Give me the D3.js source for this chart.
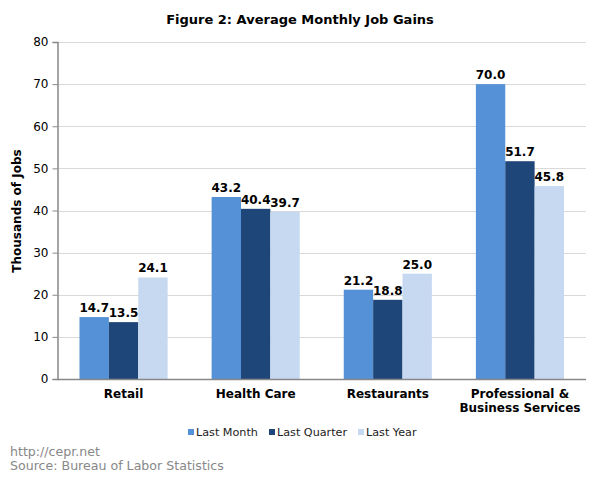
<!DOCTYPE html>
<html><head><meta charset="utf-8">
<script src="https://cdn.jsdelivr.net/npm/d3@7"></script>
<style>body{margin:0;background:#fff;} svg{display:block;font-family:Verdana,"DejaVu Sans",sans-serif;}</style>
</head><body>
<svg id="c" width="600" height="478"></svg>
<script>
const categories = [["Retail"],["Health Care"],["Restaurants"],["Professional &","Business Services"]];
const seriesNames = ["Last Month","Last Quarter","Last Year"];
const lastMonth = [14.7, 43.2, 21.2, 70.0];
const lastQuarter = [13.5, 40.4, 18.8, 51.7];
const lastYear = [24.1, 39.7, 25.0, 45.8];
const yTicks = [0,10,20,30,40,50,60,70,80];
const colors = ["#5591d6","#1f4678","#c6d9f1"];
const series = [lastMonth,lastQuarter,lastYear];

const svg = d3.select("#c");
const L=57.5, R=586, T=42, B=379;
const x0 = d3.scaleBand().domain(d3.range(categories.length)).range([L,R]).paddingInner(0).paddingOuter(0);
const x1 = d3.scaleBand().domain(d3.range(3)).range([22, x0.bandwidth()-22]);
const y = d3.scaleLinear().domain([0,80]).range([B,T]);

// gridlines
svg.append("g").selectAll("line").data(yTicks.filter(d=>d>0)).join("line")
  .attr("x1",L).attr("x2",R).attr("y1",d=>Math.round(y(d))+0.5).attr("y2",d=>Math.round(y(d))+0.5)
  .attr("stroke","#d9d9d9").attr("stroke-width",1);

// bars
const g = svg.append("g");
categories.forEach((c,i)=>{
  series.forEach((s,j)=>{
    g.append("rect").attr("x",x0(i)+x1(j)).attr("width",x1.bandwidth())
      .attr("y",y(s[i])).attr("height",y(0)-y(s[i])).attr("fill",colors[j]);
    g.append("text").attr("x",x0(i)+x1(j)+x1.bandwidth()/2).attr("y",y(s[i])-5)
      .attr("text-anchor","middle").attr("font-size",12).attr("font-weight","bold").attr("fill","#000")
      .text(s[i].toFixed(1));
  });
});

// y axis
const ya = svg.append("g").attr("transform",`translate(${L},0)`)
  .call(d3.axisLeft(y).tickValues(yTicks).tickSize(5).tickPadding(4));
ya.select(".domain").attr("stroke","#888").attr("stroke-width",1.5);
ya.selectAll(".tick line").attr("stroke","#888");
ya.selectAll(".tick text").attr("font-size",12).attr("fill","#000").attr("font-family","Verdana,'DejaVu Sans',sans-serif");

// x axis baseline
svg.append("line").attr("x1",L).attr("x2",R).attr("y1",B+0.5).attr("y2",B+0.5).attr("stroke","#888").attr("stroke-width",1.5);

// category labels
categories.forEach((c,i)=>{
  const t = svg.append("text").attr("text-anchor","middle").attr("font-size",12).attr("font-weight","bold").attr("fill","#000");
  c.forEach((line,k)=>{
    t.append("tspan").attr("x",x0(i)+x0.bandwidth()/2).attr("y",398+k*14).text(line);
  });
});

// title
svg.append("text").attr("x",300).attr("y",24).attr("text-anchor","middle").attr("font-size",13).attr("font-weight","bold").text("Figure 2: Average Monthly Job Gains");

// y label
svg.append("text").attr("transform","translate(21,211) rotate(-90)").attr("text-anchor","middle")
  .attr("font-size",12).attr("font-weight","bold").text("Thousands of Jobs");

// legend
const legX = [188, 269, 358];
seriesNames.forEach((n,j)=>{
  svg.append("rect").attr("x",legX[j]).attr("y",429).attr("width",6).attr("height",6).attr("fill",colors[j]);
  svg.append("text").attr("x",legX[j]+8).attr("y",436).attr("font-size",11.2).attr("fill","#222").text(n);
});

// footer
svg.append("text").attr("x",10).attr("y",456).attr("font-size",12.6).attr("fill","#888").text("http://cepr.net");
svg.append("text").attr("x",10).attr("y",470).attr("font-size",12.6).attr("fill","#888").text("Source: Bureau of Labor Statistics");
</script>
</body></html>
